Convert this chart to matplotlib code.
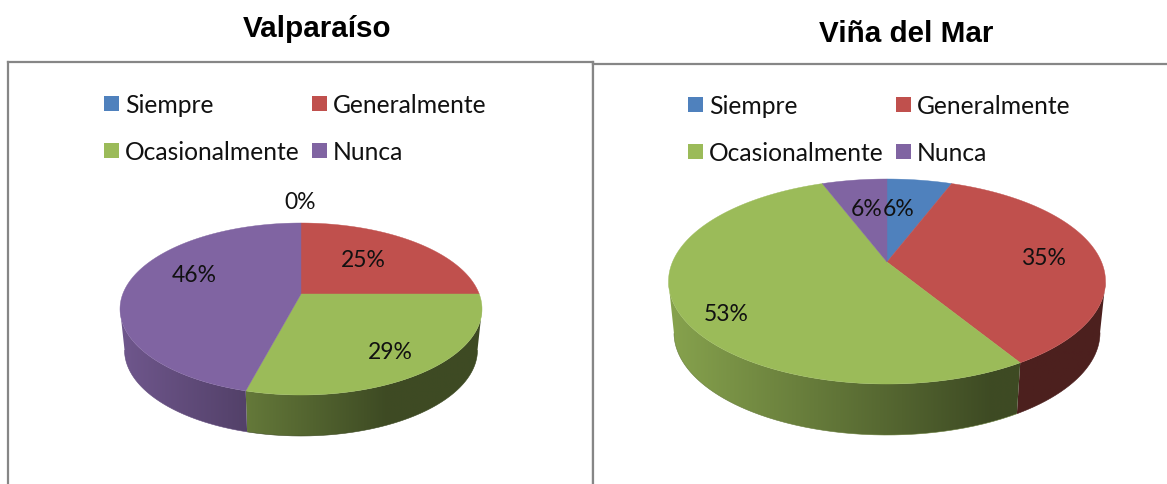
import numpy as np
import matplotlib
matplotlib.use("Agg")
import matplotlib.pyplot as plt
from matplotlib.patches import Patch, Polygon

categories = ["Siempre", "Generalmente", "Ocasionalmente", "Nunca"]
valparaiso = [0, 25, 29, 46]
vina = [6, 35, 53, 6]
colors = ["#4F81BD", "#C0504D", "#9BBB59", "#8064A2"]

W, H = 1167, 485
fig = plt.figure(figsize=(W / 100, H / 100), dpi=100)


def rim(theta, geo):
    # point on the top ellipse seen from the hub (the hub sits above the ellipse centre)
    dx = np.sin(theta)
    dy = -geo["k"] * np.cos(theta)
    e = geo["hy"] - geo["cy"]
    a = dx**2 / geo["rx"]**2 + dy**2 / geo["ry"]**2
    b = 2 * e * dy / geo["ry"]**2
    c = e**2 / geo["ry"]**2 - 1
    t = (-b + np.sqrt(b**2 - 4 * a * c)) / (2 * a)
    return geo["hx"] + t * dx, geo["hy"] + t * dy


def shade(x, geo):
    # side wall gets darker from left to right, flat after a while
    frac = (x - geo["hx"]) / geo["rx"]
    return np.clip(0.87 - 0.32 * (frac + 1), 0.40, 1)


def draw_pie(ax, values, geo):
    ends = np.cumsum(values) / sum(values) * 2 * np.pi
    starts = ends - np.array(values) / sum(values) * 2 * np.pi
    xs = np.linspace(geo["hx"] - geo["rx"] - 2, geo["hx"] + geo["rx"] + 2, 500)
    # side wall first, a horizontal gradient clipped to the wall shape
    for v, s, e, col in zip(values, starts, ends, colors):
        if v == 0:
            continue
        x, y = rim(np.linspace(s, e, 400), geo)
        front = y >= geo["cy"]
        if not front.any():
            continue
        x, y = x[front], y[front]
        xb = geo["hx"] + (x - geo["hx"]) * geo["shrink"]
        outline = np.r_[np.c_[x, y], np.c_[xb, y + geo["depth"]][::-1]]
        base = np.array(matplotlib.colors.to_rgb(col))
        grad = np.outer(shade(xs, geo), base)[np.newaxis, :, :]
        im = ax.imshow(grad, extent=(xs[0], xs[-1], y.max() + geo["depth"] + 2, y.min() - 2),
                       aspect="auto", interpolation="bilinear", zorder=1)
        clip = Polygon(outline, closed=True, transform=ax.transData)
        im.set_clip_path(clip)
        # thin edge so the clipped wall is not left jagged
        ax.add_patch(Polygon(np.c_[xb, y + geo["depth"]], closed=False, fill=False, zorder=1,
                             edgecolor=base * shade(xb.mean(), geo), lw=0.4))
    # top of the pie
    for v, s, e, col in zip(values, starts, ends, colors):
        if v == 0:
            continue
        x, y = rim(np.linspace(s, e, 240), geo)
        ax.fill(np.r_[geo["hx"], x], np.r_[geo["hy"], y], color=col, lw=0.3, zorder=2)


def panel(box, values, geo, title, title_pos, legend_pos, label_pos):
    x0, x1, y0, y1 = box
    ax = fig.add_axes([x0 / W, 1 - y1 / H, (x1 - x0) / W, (y1 - y0) / H])
    draw_pie(ax, values, geo)
    ax.set_xlim(x0, x1)
    ax.set_ylim(y1, y0)
    ax.set_xticks([])
    ax.set_yticks([])
    for s in ax.spines.values():
        s.set_color("#868686")
        s.set_linewidth(1.6)
    for v, (lx, ly) in zip(values, label_pos):
        ax.text(lx, ly, str(v) + "%", ha="center", va="center", family="Lato",
                fontsize=16.5, color="#111111", zorder=3)
    ax.text(title_pos[0], title_pos[1], title, ha="center", va="center", clip_on=False,
            family="Liberation Sans", fontweight="bold", fontsize=21.3, color="black")
    # column first order: left column then right column
    order = [0, 2, 1, 3]
    handles = [Patch(facecolor=colors[i], edgecolor="none", label=categories[i]) for i in order]
    ax.legend(handles=handles, ncols=2, loc="upper left", bbox_to_anchor=legend_pos,
              bbox_transform=ax.transData, frameon=False, borderpad=0, borderaxespad=0,
              handlelength=0.61, handleheight=0.57, handletextpad=0.25, columnspacing=0.49,
              labelspacing=0.98, prop={"family": "Lato", "size": 17.7}, labelcolor="#111111")
    return ax


geo_left = dict(hx=301, hy=295, cy=310, rx=181, ry=86, k=0.45, depth=41, shrink=0.975)
geo_right = dict(hx=887, hy=263, cy=282.5, rx=218.5, ry=102.5, k=0.48, depth=51, shrink=0.975)

labels_left = [(300, 203), (363, 261), (390, 353), (194, 276)]
labels_right = [(899, 210), (1043, 259), (726, 315), (867, 210)]

panel((8, 593, 63, 500), valparaiso, geo_left, "Valparaíso", (317, 29), (104, 94), labels_left)
panel((593, 1180, 65, 500), vina, geo_right, "Viña del Mar", (906, 34), (688, 95), labels_right)

fig.savefig("out.png", dpi=100)
